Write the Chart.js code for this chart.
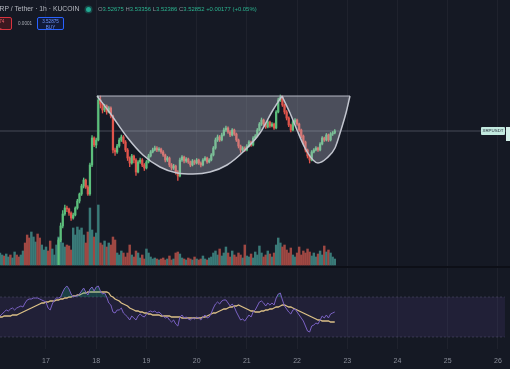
<!DOCTYPE html>
<html>
<head>
<meta charset="utf-8">
<script src="https://cdn.jsdelivr.net/npm/chart.js@4.4.1/dist/chart.umd.min.js"></script>
<style>
  html, body { margin: 0; padding: 0; background: #151924; overflow: hidden; }
  #wrap { position: relative; width: 510px; height: 369px; background: #151924; font-family: "Liberation Sans", Arial, sans-serif; }
  #chart-xrp { position: absolute; left: 0; top: 0; }
  .abs { position: absolute; white-space: nowrap; }
  .title { left: -5px; top: 5px; font-size: 6.8px; color: #b7bac2; }
  .dot { left: 86px; top: 7px; width: 5px; height: 5px; border-radius: 50%; background: #22ab94; box-shadow: 0 0 0 1.5px rgba(34,171,148,0.3); }
  .ohlc { left: 98px; top: 6px; font-size: 5.9px; color: #8d909a; }
  .ohlc b { font-weight: normal; color: #2bb38f; }
  .box { top: 17px; height: 13px; border-radius: 2px; font-size: 4.6px; line-height: 6px; text-align: center; padding-top: 1px; box-sizing: border-box; }
  .sell { left: -20px; width: 32px; border: 1px solid #d8333f; background: #3a1820; color: #f0606a; }
  .buy { left: 37px; width: 27px; border: 1px solid #2962ff; background: #111a38; color: #6f96ff; }
  .spread { left: 18px; top: 21px; font-size: 4.6px; color: #a9acb5; }
  .sym { left: 481px; top: 127px; width: 24px; height: 8px; background: #c2e9df; color: #1b2230; font-size: 4.4px; line-height: 8px; text-align: center; border-radius: 1px; }
  .plabel { left: 506px; top: 127px; width: 6px; height: 14px; background: #d2efe8; }
</style>
</head>
<body>
<div id="wrap">
  <canvas id="chart-xrp" width="510" height="369"></canvas>
  <div class="abs title">XRP / Tether · 1h · KUCOIN</div>
  <div class="abs dot"></div>
  <div class="abs ohlc">O<b>3.52675</b> H<b>3.53356</b> L<b>3.52386</b> C<b>3.52852</b> <b>+0.00177 (+0.05%)</b></div>
  <div class="abs box sell">3.52874<br>SELL</div>
  <div class="abs spread">0.0001</div>
  <div class="abs box buy">3.52875<br>BUY</div>
  <div class="abs sym">XRPUSDT</div>
  <div class="abs plabel"></div>
</div>
<script>
// day-of-month ticks on the time axis (July)
const dayTicks = [17, 18, 19, 20, 21, 22, 23, 24, 25, 26];

// 1h candles, first one opens 16 Jul 02:00
const firstHour = 2;
const firstOpen = 2.94;
const closes = [
  2.95,2.96,2.94,2.95,2.97,2.96,2.97,2.98,2.96,2.95,2.96,2.97,2.96,2.95,2.94,2.95,2.96,2.97,2.96,2.95,2.96,2.97,2.98,2.97,2.96,2.97,2.98,2.99,
  3.092,3.148,3.196,3.22,3.216,3.20,3.18,3.192,3.22,3.248,3.276,3.308,
  3.332,3.304,3.276,3.392,3.50,3.472,3.492,3.652,3.636,3.612,
  3.628,3.604,3.62,3.588,3.452,3.444,3.468,3.492,3.504,3.484,
  3.452,3.42,3.40,3.428,3.412,3.364,3.404,3.412,3.392,3.38,
  3.404,3.428,3.444,3.452,3.46,3.452,3.456,3.444,3.432,3.412,
  3.42,3.392,3.38,3.388,3.364,3.348,3.412,3.424,3.408,3.416,
  3.404,3.392,3.408,3.40,3.412,3.40,3.392,3.412,3.42,3.404,
  3.412,3.432,3.46,3.492,3.504,3.492,3.512,3.532,3.54,3.524,
  3.512,3.532,3.516,3.492,3.468,3.452,3.46,3.452,3.468,3.484,
  3.472,3.50,3.508,3.532,3.556,3.572,3.556,3.544,3.564,3.548,
  3.556,3.54,3.604,3.652,3.664,3.632,3.604,3.58,3.552,3.532,
  3.564,3.572,3.556,3.532,3.508,3.484,3.452,3.428,3.412,3.444,
  3.452,3.46,3.452,3.476,3.50,3.492,3.512,3.492,3.516,3.52,3.528
];
const highs = [
  2.96,2.97,2.97,2.96,2.98,2.98,2.98,2.99,2.99,2.97,2.97,2.98,2.98,2.97,2.96,2.96,2.97,2.98,2.98,2.97,2.97,2.98,2.99,2.99,2.98,2.98,2.99,2.99,
  3.10,3.16,3.21,3.232,3.228,3.22,3.205,3.20,3.225,3.255,3.28,3.315,
  3.34,3.336,3.31,3.40,3.51,3.505,3.50,3.668,3.668,3.64,
  3.635,3.632,3.626,3.625,3.592,3.46,3.475,3.50,3.512,3.51,
  3.49,3.458,3.425,3.435,3.432,3.418,3.41,3.42,3.418,3.398,
  3.41,3.435,3.45,3.46,3.468,3.466,3.462,3.46,3.45,3.436,
  3.426,3.424,3.398,3.395,3.392,3.37,3.42,3.43,3.428,3.422,
  3.42,3.408,3.414,3.412,3.418,3.416,3.405,3.418,3.426,3.424,
  3.418,3.438,3.466,3.50,3.512,3.51,3.52,3.54,3.548,3.545,
  3.53,3.538,3.536,3.52,3.496,3.472,3.466,3.465,3.474,3.49,
  3.488,3.506,3.514,3.538,3.562,3.58,3.576,3.56,3.57,3.568,
  3.562,3.56,3.61,3.66,3.672,3.668,3.636,3.61,3.585,3.556,
  3.57,3.578,3.576,3.56,3.536,3.512,3.488,3.456,3.432,3.45,
  3.458,3.466,3.464,3.482,3.506,3.504,3.518,3.516,3.522,3.526,3.534
];
const lows = [
  2.93,2.94,2.93,2.93,2.94,2.95,2.95,2.96,2.95,2.94,2.94,2.95,2.95,2.94,2.93,2.93,2.94,2.95,2.95,2.94,2.94,2.95,2.96,2.96,2.95,2.95,2.96,2.97,
  2.985,3.085,3.14,3.19,3.205,3.19,3.17,3.175,3.188,3.215,3.24,3.27,
  3.30,3.298,3.27,3.27,3.385,3.465,3.46,3.488,3.62,3.60,
  3.605,3.595,3.60,3.58,3.44,3.43,3.438,3.462,3.486,3.478,
  3.445,3.41,3.385,3.395,3.40,3.35,3.36,3.398,3.385,3.37,
  3.376,3.40,3.424,3.44,3.448,3.445,3.446,3.438,3.426,3.404,
  3.406,3.385,3.372,3.374,3.355,3.33,3.344,3.406,3.40,3.402,
  3.398,3.385,3.388,3.394,3.396,3.394,3.384,3.388,3.408,3.398,
  3.40,3.408,3.428,3.455,3.486,3.486,3.488,3.508,3.526,3.518,
  3.505,3.508,3.51,3.486,3.46,3.442,3.446,3.446,3.448,3.464,
  3.466,3.468,3.494,3.504,3.528,3.55,3.55,3.538,3.54,3.542,
  3.544,3.534,3.536,3.60,3.646,3.626,3.596,3.572,3.545,3.524,
  3.528,3.558,3.55,3.526,3.50,3.476,3.444,3.42,3.40,3.408,
  3.44,3.448,3.446,3.448,3.472,3.486,3.488,3.486,3.488,3.51,3.516
];
// volume, x100k XRP
const volumes = [
  12,10,9,11,8,10,7,13,10,8, 10,14,22,30,27,33,28,23,31,27,
  20,15,18,14,24,16,10,20,28,26, 22,18,20,19,15,37,30,38,35,37,
  30,22,33,57,35,28,32,60,22,20, 24,18,22,20,28,25,12,10,14,12,
  8,12,20,10,8,14,12,7,10,6, 16,12,8,6,7,6,5,6,7,5,
  6,9,5,6,12,13,11,7,6,5, 7,6,5,8,6,5,6,9,6,5,
  7,8,12,14,10,16,9,12,18,12, 8,14,10,8,12,10,7,20,9,8,
  11,7,13,10,19,12,8,10,14,11, 8,12,20,27,22,18,20,15,12,17,
  10,8,12,18,10,14,12,16,13,9, 12,8,11,14,10,19,13,15,12,8,6
];
const rsi = [
  51,53,55,57,56,58,59,57,59,60, 61,60,64,67,68,68,69,69,69,68,
  67,66,65,59,57,63,67,69,69,70, 75,79,81,78,73,70,71,71,73,76,
  79,75,72,78,80,76,80,81,76,73, 74,70,64,62,55,54,57,57,59,54,
  52,50,47,51,49,47,51,53,51,50, 53,55,56,55,56,54,55,53,51,49,
  50,47,45,47,43,41,50,52,49,50, 48,47,49,48,50,49,47,50,52,49,
  50,54,59,63,65,63,66,67,67,64, 61,63,60,55,51,47,48,46,49,52,
  50,55,57,61,65,66,64,61,64,62, 64,62,69,73,74,67,61,58,55,53,
  57,58,55,52,49,46,41,36,35,41, 42,44,43,47,51,49,52,49,53,54,55
];
const rsiMa = [
  50,50,51,51,51,51,52,52,52,53, 54,55,56,57,58,59,60,61,62,63,
  64,64,65,65,66,66,66,67,67,68, 68,69,69,70,70,71,71,72,72,73,
  74,74,75,75,75,75,75,75,75,75, 75,75,74,71,70,68,67,66,64,63,
  62,61,59,58,57,56,56,55,55,54, 54,53,53,52,52,52,52,51,51,51,
  51,51,50,50,50,50,50,49,49,49, 49,49,49,49,49,49,49,50,50,51,
  52,53,54,54,55,56,57,58,58,59, 60,60,61,61,62,61,60,59,58,57,
  56,56,55,55,55,56,56,57,57,58, 58,59,60,60,61,62,62,61,60,60,
  59,58,57,56,55,54,53,52,51,50, 49,48,47,47,46,46,46,46,45,45,45
];

// cup and handle drawing, anchor points (day, price)
const cupTop = 3.668;
const cupDays = [18.016, 18.274, 18.613, 18.931, 19.27, 19.608, 19.927, 20.266, 20.604, 20.923, 21.261, 21.52, 21.699];
const cupPrices = [3.668, 3.60, 3.504, 3.432, 3.384, 3.36, 3.356, 3.364, 3.392, 3.444, 3.52, 3.612, 3.668];
const handleDays = [21.699, 21.859, 21.998, 22.157, 22.317, 22.416, 22.595, 22.755, 22.874, 22.974, 23.053];
const handlePrices = [3.668, 3.60, 3.532, 3.46, 3.412, 3.40, 3.42, 3.46, 3.532, 3.60, 3.668];

const rsiUpper = 70, rsiLower = 30, rsiTop = 100;

const xMin = 16.084, xMax = 26.24, bandEnd = 26.14;
const hourDay = i => 16 + (firstHour + i) / 24;
const opens = closes.map((c, i) => (i ? closes[i - 1] : firstOpen));
const isUp = closes.map((c, i) => c >= opens[i]);
const upCol = '#5cbf7c', downCol = '#e0544b';
const upVol = '#3a7a78', downVol = '#9f4843';
const lastClose = closes[closes.length - 1];
const priceClip = { left: 0, top: 0, right: 0, bottom: -84 };

const ctx = document.getElementById('chart-xrp').getContext('2d');
new Chart(ctx, {
  type: 'bar',
  data: {
    datasets: [
      {
        type: 'line', label: 'cup', yAxisID: 'yPrice', order: 0,
        data: cupDays.map((d, i) => ({ x: d, y: cupPrices[i] })),
        borderColor: '#c2c5cf', borderWidth: 1.5, pointRadius: 0,
        cubicInterpolationMode: 'monotone',
        fill: { value: cupTop }, backgroundColor: 'rgba(190,194,208,0.32)'
      },
      {
        type: 'line', label: 'handle', yAxisID: 'yPrice', order: 0,
        data: handleDays.map((d, i) => ({ x: d, y: handlePrices[i] })),
        borderColor: '#c2c5cf', borderWidth: 1.5, pointRadius: 0,
        cubicInterpolationMode: 'monotone',
        fill: { value: cupTop }, backgroundColor: 'rgba(190,194,208,0.32)'
      },
      {
        type: 'line', label: 'rim', yAxisID: 'yPrice', order: 0,
        data: [{ x: cupDays[0], y: cupTop }, { x: handleDays[handleDays.length - 1], y: cupTop }],
        borderColor: '#b4b7c2', borderWidth: 1, pointRadius: 0, fill: false
      },
      {
        label: 'body', yAxisID: 'yPrice', order: 2, grouped: false,
        data: closes.map((c, i) => ({ x: hourDay(i), y: [opens[i], c] })),
        backgroundColor: isUp.map(u => (u ? upCol : downCol)),
        barThickness: 1.6, minBarLength: 1, borderWidth: 0, clip: priceClip
      },
      {
        label: 'wick', yAxisID: 'yPrice', order: 3, grouped: false,
        data: closes.map((c, i) => ({ x: hourDay(i), y: [lows[i], highs[i]] })),
        backgroundColor: isUp.map(u => (u ? upCol : downCol)),
        barThickness: 0.7, borderWidth: 0, clip: priceClip
      },
      {
        label: 'volume', yAxisID: 'yVol', order: 4, grouped: false,
        data: volumes.map((v, i) => ({ x: hourDay(i), y: v })),
        backgroundColor: isUp.map(u => (u ? upVol : downVol)),
        barThickness: 1.8, borderWidth: 0
      },
      {
        type: 'line', label: 'last', yAxisID: 'yPrice', order: 5,
        data: [{ x: xMin, y: lastClose }, { x: xMax, y: lastClose }],
        borderColor: 'rgba(160,165,182,0.35)', borderWidth: 1, pointRadius: 0, fill: false
      },
      {
        type: 'line', label: 'RSI', yAxisID: 'yRsi', order: 1,
        data: rsi.map((v, i) => ({ x: hourDay(i), y: v })),
        borderColor: '#7b62c4', borderWidth: 1, pointRadius: 0,
        fill: { target: { value: rsiUpper }, above: 'rgba(38,166,154,0.28)', below: 'rgba(0,0,0,0)' }
      },
      {
        type: 'line', label: 'RSI MA', yAxisID: 'yRsi', order: 1,
        data: rsiMa.map((v, i) => ({ x: hourDay(i), y: v })),
        borderColor: '#dcc086', borderWidth: 1.3, pointRadius: 0, fill: false
      },
      {
        type: 'line', label: 'band hi', yAxisID: 'yRsi', order: 6,
        data: [{ x: xMin, y: rsiUpper }, { x: bandEnd, y: rsiUpper }],
        borderColor: 'rgba(120,118,150,0.45)', borderWidth: 0.7, borderDash: [2, 2], pointRadius: 0,
        fill: '+1', backgroundColor: 'rgba(126,87,194,0.12)'
      },
      {
        type: 'line', label: 'band lo', yAxisID: 'yRsi', order: 6,
        data: [{ x: xMin, y: rsiLower }, { x: bandEnd, y: rsiLower }],
        borderColor: 'rgba(120,118,150,0.45)', borderWidth: 0.7, borderDash: [2, 2], pointRadius: 0, fill: false
      },
      {
        type: 'line', label: 'pane', yAxisID: 'yRsi', order: 7,
        data: [{ x: xMin, y: rsiTop }, { x: xMax, y: rsiTop }],
        borderColor: '#0d0f17', borderWidth: 2, pointRadius: 0, fill: false
      }
    ]
  },
  options: {
    responsive: false,
    animation: false,
    events: [],
    layout: { padding: 0 },
    plugins: { legend: { display: false }, tooltip: { enabled: false } },
    scales: {
      x: {
        type: 'linear', min: xMin, max: xMax, offset: false,
        grid: { color: 'rgba(255,255,255,0.045)', drawTicks: false, offset: false },
        border: { display: false },
        ticks: { color: '#8b8f9a', font: { size: 7, family: 'Liberation Sans' }, padding: 8 },
        afterBuildTicks: s => { s.ticks = dayTicks.map(v => ({ value: v })); },
        afterFit: s => { s.height = 20; }
      },
      yPrice: { type: 'linear', display: false, min: 2.656, max: 4.052 },
      yVol: { type: 'linear', display: false, min: -84, max: 265 },
      yRsi: { type: 'linear', display: false, min: 18, max: 367 }
    }
  }
});
</script>
</body>
</html>
